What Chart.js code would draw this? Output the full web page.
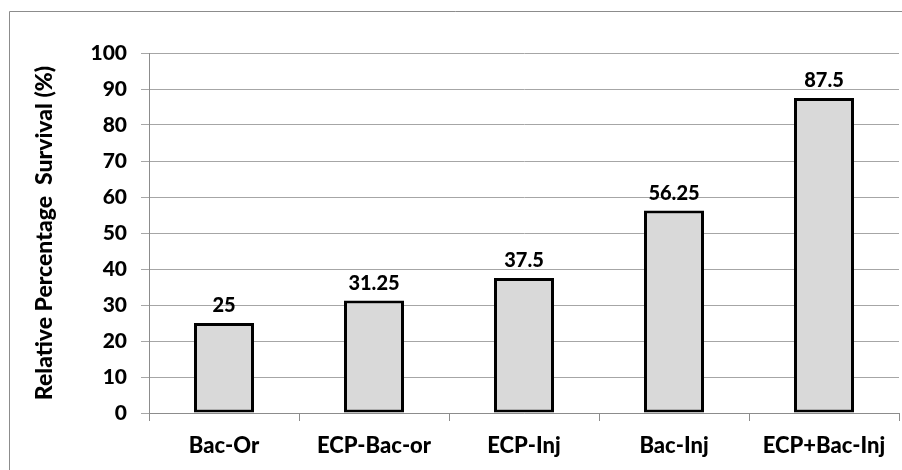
<!DOCTYPE html>
<html>
<head>
<meta charset="utf-8">
<script src="https://cdn.jsdelivr.net/npm/chart.js@4/dist/chart.umd.min.js"></script>
<style>
  html, body { margin: 0; padding: 0; background: #ffffff; }
  #wrap { width: 902px; height: 470px; position: relative; }
</style>
</head>
<body>
<div id="wrap"><canvas id="c" width="902" height="470"></canvas></div>
<script>
// Treatment groups and their relative percentage survival
const categories = ['Bac-Or', 'ECP-Bac-or', 'ECP-Inj', 'Bac-Inj', 'ECP+Bac-Inj'];
const survival = [25, 31.25, 37.5, 56.25, 87.5];
const yTicks = [0, 10, 20, 30, 40, 50, 60, 70, 80, 90, 100];

const FONT = 'Lato, "Noto Sans", sans-serif';
const WEIGHT = 900;

// Outer frame line (left and top edges)
const framePlugin = {
  id: 'frame',
  beforeDraw(chart) {
    const ctx = chart.ctx;
    ctx.save();
    ctx.strokeStyle = '#8c8c8c';
    ctx.lineWidth = 1;
    ctx.beginPath();
    ctx.moveTo(9.5, 470);
    ctx.lineTo(9.5, 11.5);
    ctx.lineTo(902, 11.5);
    ctx.stroke();
    ctx.restore();
  }
};

// Value labels above each bar
const valueLabels = {
  id: 'valueLabels',
  afterDatasetsDraw(chart) {
    const ctx = chart.ctx;
    const meta = chart.getDatasetMeta(0);
    ctx.save();
    ctx.font = WEIGHT + ' 20px ' + FONT;
    ctx.fillStyle = '#000000';
    ctx.textAlign = 'center';
    ctx.textBaseline = 'alphabetic';
    meta.data.forEach((bar, i) => {
      ctx.fillText(String(survival[i]), bar.x, bar.y - 11);
    });
    ctx.restore();
  }
};

new Chart(document.getElementById('c'), {
  type: 'bar',
  data: {
    labels: categories,
    datasets: [{
      data: survival,
      backgroundColor: '#d9d9d9',
      borderColor: '#000000',
      borderWidth: 3,
      borderSkipped: false,
      categoryPercentage: 1,
      barPercentage: 0.4
    }]
  },
  options: {
    responsive: false,
    animation: false,
    layout: { padding: { left: 0, right: 3, top: 53, bottom: 0 } },
    plugins: { legend: { display: false }, tooltip: { enabled: false } },
    scales: {
      x: {
        grid: {
          offset: true,
          drawOnChartArea: false,
          drawTicks: true,
          tickLength: 8,
          color: '#8c8c8c'
        },
        border: { color: '#8c8c8c', width: 1 },
        ticks: {
          color: '#000000',
          font: { family: FONT, size: 22, weight: WEIGHT },
          padding: 12,
          maxRotation: 0
        },
        afterFit(scale) { scale.height = 57; }
      },
      y: {
        min: 0,
        max: 100,
        afterBuildTicks(scale) { scale.ticks = yTicks.map(v => ({ value: v })); },
        grid: {
          color: '#a6a6a6',
          tickLength: 8,
          drawTicks: true
        },
        border: { color: '#8c8c8c', width: 1 },
        ticks: {
          color: '#000000',
          font: { family: FONT, size: 21, weight: WEIGHT },
          padding: 14
        },
        title: {
          display: true,
          text: 'Relative Percentage  Survival (%)',
          color: '#000000',
          font: { family: FONT, size: 23, weight: WEIGHT, lineHeight: 1 },
          padding: { top: 33, bottom: 0 }
        },
        afterFit(scale) { scale.width = 149; }
      }
    }
  },
  plugins: [framePlugin, valueLabels]
});
</script>
</body>
</html>
